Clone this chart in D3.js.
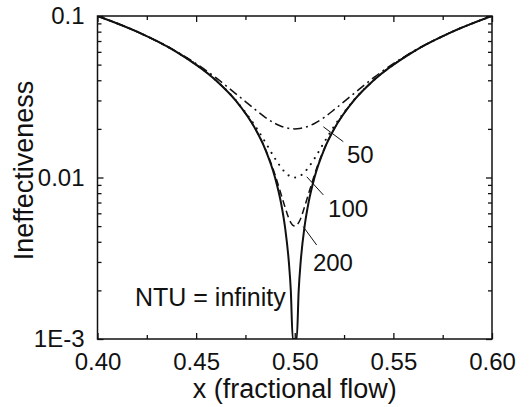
<!DOCTYPE html>
<html>
<head>
<meta charset="utf-8">
<script src="https://cdn.jsdelivr.net/npm/d3@7"></script>
<style>
  html, body { margin: 0; padding: 0; background: #fff; }
  svg { display: block; }
  text { font-family: "Liberation Sans", Arial, Helvetica, sans-serif; fill: #111; }
</style>
</head>
<body>
<svg id="chart" width="529" height="407"></svg>
<script>
// ---------------- data ----------------
const xTickValues = [0.40, 0.45, 0.50, 0.55, 0.60];
const xTickLabels = ["0.40", "0.45", "0.50", "0.55", "0.60"];
const yTickValues = [0.001, 0.01, 0.1];
const yTickLabels = ["1E-3", "0.01", "0.1"];

// NTU = infinity (solid)
const infX = [0.40, 0.42, 0.44, 0.46, 0.47, 0.48, 0.485, 0.49, 0.493, 0.495, 0.497, 0.498, 0.499,
              0.501, 0.502, 0.503, 0.505, 0.507, 0.51, 0.515, 0.52, 0.53, 0.54, 0.56, 0.58, 0.60];
const infY = [0.1, 0.08, 0.06, 0.04, 0.03, 0.02, 0.015, 0.01, 0.007, 0.005, 0.003, 0.002, 0.001,
              0.001, 0.002, 0.003, 0.005, 0.007, 0.01, 0.015, 0.02, 0.03, 0.04, 0.06, 0.08, 0.1];

// finite NTU curves share one x grid
const ntuX = [0.40, 0.42, 0.44, 0.45, 0.46, 0.47, 0.475, 0.48, 0.485, 0.49, 0.4925, 0.495, 0.4975,
              0.50,
              0.5025, 0.505, 0.5075, 0.51, 0.515, 0.52, 0.525, 0.53, 0.54, 0.55, 0.56, 0.58, 0.60];
const ntu50 = [0.1, 0.08, 0.0603, 0.0507, 0.0415, 0.0331, 0.0295, 0.0263, 0.0236, 0.0216, 0.0209, 0.0204, 0.0201,
               0.0200,
               0.0201, 0.0204, 0.0209, 0.0216, 0.0236, 0.0263, 0.0295, 0.0331, 0.0415, 0.0507, 0.0603, 0.08, 0.1];
const ntu100 = [0.1, 0.08, 0.06, 0.05, 0.0400, 0.0302, 0.0253, 0.0208, 0.0166, 0.0131, 0.0118, 0.0108, 0.0102,
                0.0100,
                0.0102, 0.0108, 0.0118, 0.0131, 0.0166, 0.0208, 0.0253, 0.0302, 0.0400, 0.05, 0.06, 0.08, 0.1];
const ntu200 = [0.1, 0.08, 0.06, 0.05, 0.04, 0.03, 0.025, 0.0200, 0.0151, 0.0104, 0.0083, 0.0066, 0.0054,
                0.0050,
                0.0054, 0.0066, 0.0083, 0.0104, 0.0151, 0.0200, 0.025, 0.03, 0.04, 0.05, 0.06, 0.08, 0.1];

// annotations (data coordinates)
const annLabels = ["50", "100", "200", "NTU = infinity"];
const annTextX  = [0.5265, 0.5169, 0.5092, 0.4190];
const annTextY  = [0.0123, 0.00569, 0.00264, 0.0016];
const annLineX1 = [0.5145, 0.5061, 0.5043, null];
const annLineY1 = [0.0206, 0.0101, 0.00496, null];
const annLineX2 = [0.5246, 0.5145, 0.5111, null];
const annLineY2 = [0.01667, 0.0078, 0.00382, null];

// ---------------- layout ----------------
const W = 529, H = 407;
const margin = { left: 97.5, top: 16, right: 37, bottom: 68 };
const iw = W - margin.left - margin.right;
const ih = H - margin.top - margin.bottom;

const svg = d3.select("#chart");
const g = svg.append("g").attr("transform", `translate(${margin.left},${margin.top})`);

const x = d3.scaleLinear().domain([0.40, 0.60]).range([0, iw]);
const y = d3.scaleLog().domain([0.001, 0.1]).range([ih, 0]);

g.append("clipPath").attr("id", "clip")
  .append("rect").attr("x", 0).attr("y", 0).attr("width", iw).attr("height", ih);

const line = d3.line().x(d => x(d[0])).y(d => y(d[1])).curve(d3.curveMonotoneX);
const zip = (xs, ys) => xs.map((v, i) => [v, ys[i]]);

const curves = g.append("g").attr("clip-path", "url(#clip)");
curves.append("path").datum(zip(ntuX, ntu50)).attr("d", line)
  .attr("fill", "none").attr("stroke", "#111").attr("stroke-width", 1.5)
  .attr("stroke-dasharray", "9,4,2,4");
curves.append("path").datum(zip(ntuX, ntu100)).attr("d", line)
  .attr("fill", "none").attr("stroke", "#111").attr("stroke-width", 2)
  .attr("stroke-linecap", "round")
  .attr("stroke-dasharray", "0.1,7");
curves.append("path").datum(zip(ntuX, ntu200)).attr("d", line)
  .attr("fill", "none").attr("stroke", "#111").attr("stroke-width", 1.5)
  .attr("stroke-dasharray", "7,4");
curves.append("path").datum(zip(infX, infY)).attr("d", line)
  .attr("fill", "none").attr("stroke", "#111").attr("stroke-width", 2);

// ---------------- axes ----------------
const xMinor = d3.range(0.425, 0.60, 0.05);
const yMinor = [];
[0.001, 0.01].forEach(b => { for (let k = 2; k <= 9; k++) yMinor.push(b * k); });

function frameAxis(axis, sel) {
  sel.call(axis);
  sel.select(".domain").remove();
  sel.selectAll(".tick line").attr("stroke", "#111").attr("stroke-width", 1.3);
}

// bottom
const gb = g.append("g").attr("transform", `translate(0,${ih})`);
frameAxis(d3.axisBottom(x).tickValues(xTickValues).tickSize(-6)
  .tickFormat((d, i) => xTickLabels[i]).tickPadding(14), gb);
gb.selectAll(".tick text").attr("font-size", 24).attr("fill", "#111")
  .attr("dy", "0.71em");
const gbm = g.append("g").attr("transform", `translate(0,${ih})`);
frameAxis(d3.axisBottom(x).tickValues(xMinor).tickSize(-4).tickFormat(""), gbm);

// top
const gt = g.append("g");
frameAxis(d3.axisTop(x).tickValues(xTickValues).tickSize(-6).tickFormat(""), gt);
const gtm = g.append("g");
frameAxis(d3.axisTop(x).tickValues(xMinor).tickSize(-4).tickFormat(""), gtm);

// left
const gl = g.append("g");
frameAxis(d3.axisLeft(y).tickValues(yTickValues).tickSize(-6)
  .tickFormat((d, i) => yTickLabels[i]).tickPadding(13), gl);
gl.selectAll(".tick text").attr("font-size", 24).attr("fill", "#111");
const glm = g.append("g");
frameAxis(d3.axisLeft(y).tickValues(yMinor).tickSize(-4).tickFormat(""), glm);

// right
const gr = g.append("g").attr("transform", `translate(${iw},0)`);
frameAxis(d3.axisRight(y).tickValues(yTickValues).tickSize(-6).tickFormat(""), gr);
const grm = g.append("g").attr("transform", `translate(${iw},0)`);
frameAxis(d3.axisRight(y).tickValues(yMinor).tickSize(-4).tickFormat(""), grm);

// frame
g.append("rect").attr("x", 0).attr("y", 0).attr("width", iw).attr("height", ih)
  .attr("fill", "none").attr("stroke", "#111").attr("stroke-width", 1.5);

// ---------------- annotations ----------------
annLabels.forEach((lab, i) => {
  if (annLineX1[i] !== null) {
    g.append("line")
      .attr("x1", x(annLineX1[i])).attr("y1", y(annLineY1[i]))
      .attr("x2", x(annLineX2[i])).attr("y2", y(annLineY2[i]))
      .attr("stroke", "#111").attr("stroke-width", 1);
  }
  g.append("text").attr("x", x(annTextX[i])).attr("y", y(annTextY[i]))
    .attr("font-size", lab.length > 4 ? 25 : 24).text(lab);
});

// ---------------- titles ----------------
svg.append("text")
  .attr("x", margin.left + iw / 2).attr("y", 398)
  .attr("text-anchor", "middle").attr("font-size", 27)
  .text("x (fractional flow)");
svg.append("text")
  .attr("transform", `translate(33,${margin.top + ih / 2 - 7}) rotate(-90)`)
  .attr("text-anchor", "middle").attr("font-size", 27)
  .text("Ineffectiveness");
</script>
</body>
</html>
